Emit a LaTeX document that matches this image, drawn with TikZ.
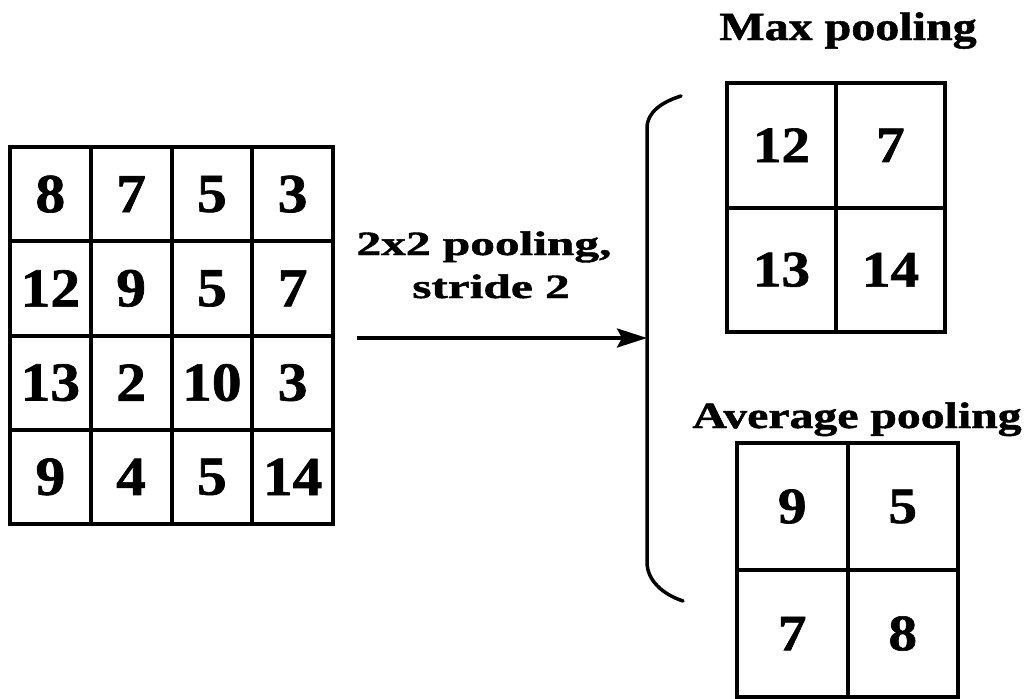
\documentclass[tikz,border=0pt]{standalone}
\usepackage{graphicx}
\usepackage{fontspec}
\setmainfont{Liberation Serif}
\newfontfamily\hvy{Liberation Serif}[FakeBold=1.2]
\usetikzlibrary{arrows.meta}
\newcommand{\lnum}[1]{\scalebox{1.08}[1]{\fontsize{55}{55}\selectfont\hvy\bfseries #1}}
\newcommand{\rnum}[1]{\scalebox{1.12}[1]{\fontsize{51}{51}\selectfont\hvy\bfseries #1}}
\newcommand{\lbltxt}[3]{\scalebox{#2}[1]{\fontsize{#1}{#1}\selectfont\hvy\bfseries #3}}
\begin{document}
\begin{tikzpicture}[x=1pt,y=-1pt,
  cellbase/.style={draw, line width=4pt, inner sep=0pt, outer sep=0pt, anchor=north west},
  lcell/.style={cellbase, minimum width=80.75pt, minimum height=94.25pt},
  mcell/.style={cellbase, minimum width=109pt, minimum height=124.5pt},
  acell/.style={cellbase, minimum width=110.5pt, minimum height=127pt},
  lbl/.style={inner sep=0pt, anchor=base},
  arr/.style={line width=3.5pt, -{Stealth[length=30pt,width=19pt,inset=5pt]}},
  bracel/.style={line width=3.5pt, line cap=round}]
\fill[white] (0,0) rectangle (1034,699);
\useasboundingbox (0,0) rectangle (1034,699);
% input grid
\foreach \v [count=\c from 0] in {8,7,5,3}
  \node[lcell] (a0\c) at ({10+80.75*\c},147) {\lnum{\v}};
\foreach \v [count=\c from 0] in {12,9,5,7}
  \node[lcell] (a1\c) at ({10+80.75*\c},241.25) {\lnum{\v}};
\foreach \v [count=\c from 0] in {13,2,10,3}
  \node[lcell] (a2\c) at ({10+80.75*\c},335.5) {\lnum{\v}};
\foreach \v [count=\c from 0] in {9,4,5,14}
  \node[lcell] (a3\c) at ({10+80.75*\c},429.75) {\lnum{\v}};
% max pooling grid
\node[mcell] (m00) at (727,83) {\rnum{12}};
\node[mcell] (m01) at (836,83) {\rnum{7}};
\node[mcell] (m10) at (727,207.5) {\rnum{13}};
\node[mcell] (m11) at (836,207.5) {\rnum{14}};
% average pooling grid
\node[acell] (v00) at (737,443) {\rnum{9}};
\node[acell] (v01) at (847.5,443) {\rnum{5}};
\node[acell] (v10) at (737,570) {\rnum{7}};
\node[acell] (v11) at (847.5,570) {\rnum{8}};
% labels
\node[lbl] (maxt) at (848,40) {\lbltxt{40}{1.2}{Max pooling}};
\node[lbl] (avgt) at (857,428) {\lbltxt{37}{1.29}{Average pooling}};
\node[lbl] (op1) at (484,255) {\lbltxt{34}{1.45}{2x2 pooling,}};
\node[lbl] (op2) at (491,298) {\lbltxt{34}{1.45}{stride 2}};
% brace
\coordinate (bt) at (681,96);
\coordinate (bm) at (647,338);
\coordinate (bb) at (683,601);
\draw[bracel] (bt) .. controls (662,102) and (647,112) .. (647,128) -- (647,562) .. controls (647,580) and (662,594) .. (bb);
% arrow
\draw[arr, shorten <=24pt] (a13.south east |- bm) -- (bm);
\end{tikzpicture}
\end{document}
